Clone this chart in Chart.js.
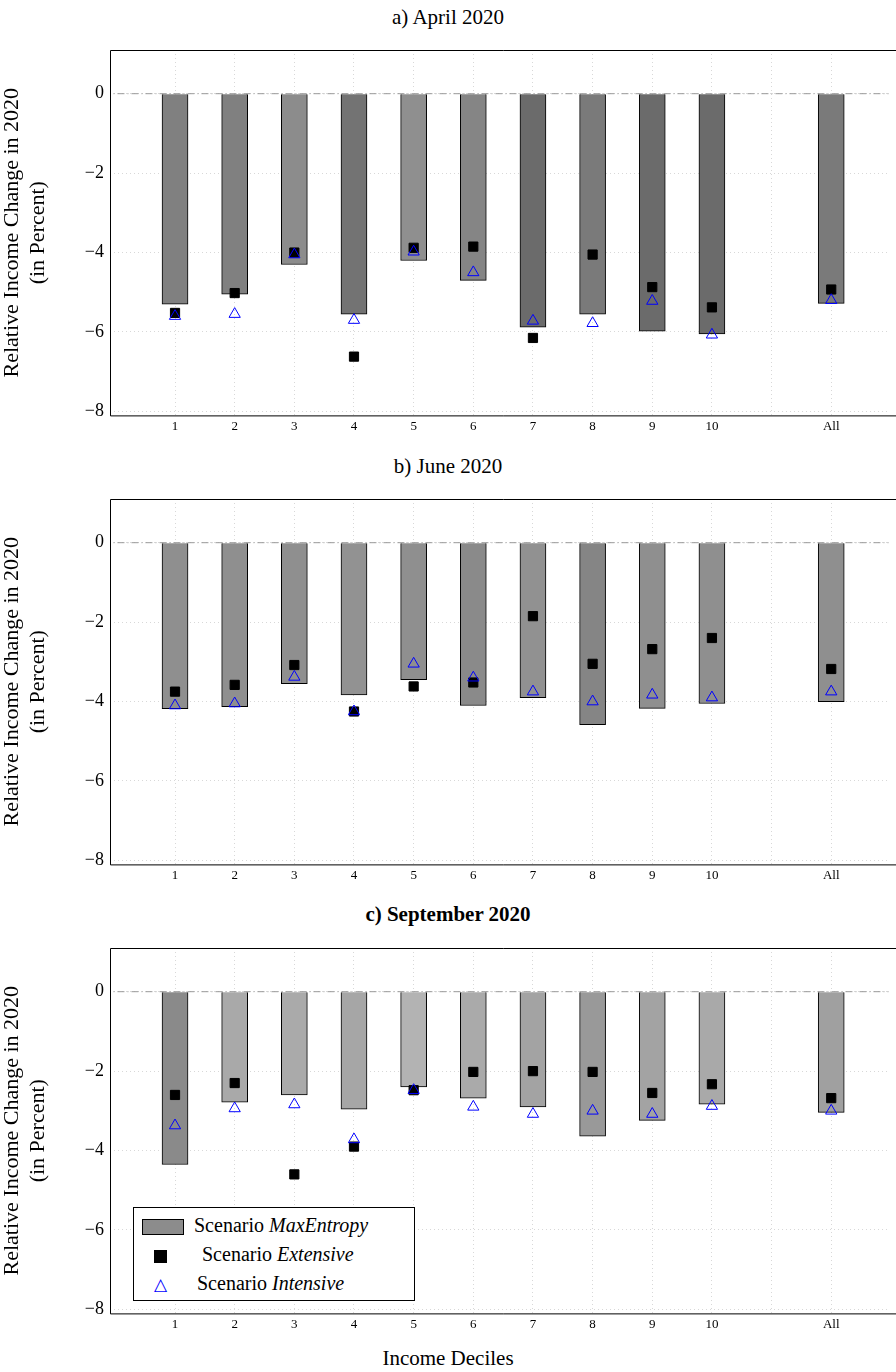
<!DOCTYPE html>
<html><head><meta charset="utf-8">
<script src="https://cdn.jsdelivr.net/npm/chart.js@4"></script>
<style>
body{margin:0;background:#fff;font-family:"Liberation Serif",serif;}
.wrap{position:absolute;left:0;width:896px;}
.t{position:absolute;left:0;width:896px;text-align:center;font-size:21px;color:#000;}
#legend{position:absolute;left:133px;top:1207px;width:280px;height:92px;border:1px solid #000;background:#fff;font-size:20px;}
#legend div{position:absolute;left:0;height:30px;line-height:30px;}
</style></head><body>
<div class="t" style="top:5px">a) April 2020</div>
<div class="t" style="top:454px">b) June 2020</div>
<div class="t" style="top:902px;font-weight:bold">c) September 2020</div>
<div class="t" style="top:1346px">Income Deciles</div>
<div class="wrap" style="top:0;height:449px"><canvas id="c0"></canvas></div>
<div class="wrap" style="top:449px;height:449px"><canvas id="c1"></canvas></div>
<div class="wrap" style="top:898px;height:449px"><canvas id="c2"></canvas></div>
<div id="legend">
 <div style="top:2px;left:8px"><span style="display:inline-block;width:40px;height:14px;background:#8c8c8c;border:1px solid #000;vertical-align:middle"></span>&nbsp; Scenario <i>MaxEntropy</i></div>
 <div style="top:31px;left:20px"><span style="display:inline-block;width:13px;height:13px;background:#000;vertical-align:middle"></span>&nbsp;&nbsp;&nbsp;&nbsp;&nbsp;&nbsp; Scenario <i>Extensive</i></div>
 <div style="top:60px;left:20px"><span style="color:#00f;font-size:17px">△</span>&nbsp;&nbsp;&nbsp;&nbsp;&nbsp; Scenario <i>Intensive</i></div>
</div>
<script>
const positions=[1,2,3,4,5,6,7,8,9,10,12];
const categories=['1','2','3','4','5','6','7','8','9','10','All'];
const aprilBars=[-5.3,-5.05,-4.3,-5.55,-4.2,-4.7,-5.88,-5.55,-5.98,-6.05,-5.28];
const aprilExt=[-5.52,-5.02,-4.0,-6.62,-3.88,-3.85,-6.15,-4.05,-4.87,-5.38,-4.93];
const aprilInt=[-5.6,-5.55,-4.05,-5.7,-3.98,-4.5,-5.72,-5.78,-5.22,-6.07,-5.2];
const juneBars=[-4.18,-4.13,-3.55,-3.83,-3.45,-4.1,-3.9,-4.58,-4.17,-4.05,-4.0];
const juneExt=[-3.75,-3.58,-3.08,-4.25,-3.62,-3.52,-1.85,-3.05,-2.68,-2.4,-3.18];
const juneInt=[-4.1,-4.05,-3.38,-4.25,-3.05,-3.4,-3.75,-4.0,-3.83,-3.9,-3.75];
const sepBars=[-4.35,-2.78,-2.6,-2.96,-2.4,-2.68,-2.9,-3.64,-3.24,-2.83,-3.04];
const sepExt=[-2.6,-2.3,-4.6,-3.9,-2.48,-2.02,-2.0,-2.02,-2.55,-2.33,-2.68];
const sepInt=[-3.37,-2.94,-2.84,-3.72,-2.48,-2.9,-3.08,-3.0,-3.08,-2.88,-3.0];
const colsA=['#808080','#808080','#8c8c8c','#737373','#8f8f8f','#858585','#6b6b6b','#7a7a7a','#6b6b6b','#6b6b6b','#7a7a7a'];
const colsB=['#8f8f8f','#8f8f8f','#8f8f8f','#929292','#8f8f8f','#8a8a8a','#919191','#858585','#8f8f8f','#8f8f8f','#8f8f8f'];
const colsC=['#8a8a8a','#a9a9a9','#aaaaaa','#a6a6a6','#b3b3b3','#aaaaaa','#a3a3a3','#999999','#a3a3a3','#a9a9a9','#a0a0a0'];
const F='"Liberation Serif", serif';
const frame={id:'frame',afterDraw(c){const a=c.chartArea,x=c.ctx;x.save();x.strokeStyle='#000';x.lineWidth=1;x.beginPath();
 x.moveTo(896,a.top+0.5);x.lineTo(a.left+0.5,a.top+0.5);x.lineTo(a.left+0.5,a.bottom+0.5);x.lineTo(896,a.bottom+0.5);x.stroke();x.restore();}};
function make(id,bars,ext,int,cols){
 const pts=v=>v.map((y,i)=>({x:positions[i],y}));
 new Chart(document.getElementById(id),{
  data:{datasets:[
   {type:'line',data:[{x:-0.2,y:0},{x:14,y:0}],borderColor:'#999',borderWidth:1,borderDash:[7,3,1,3],pointRadius:0,order:4},
   {type:'bar',data:pts(bars),backgroundColor:cols,borderColor:'#000',borderWidth:1,barThickness:26,order:3},
   {type:'scatter',data:pts(ext),pointStyle:'rect',pointRadius:6.5,backgroundColor:'#000',borderColor:'#000',order:2},
   {type:'scatter',data:pts(int),pointStyle:'triangle',pointRadius:6.5,backgroundColor:'rgba(0,0,0,0)',borderColor:'#0000ff',borderWidth:1,order:1}
  ]},
  options:{responsive:true,maintainAspectRatio:false,animation:false,
   layout:{padding:{top:50,right:0,bottom:12,left:0}},
   plugins:{legend:{display:false},tooltip:{enabled:false}},
   scales:{
    x:{type:'linear',offset:false,min:-0.09,max:12.96,afterBuildTicks(s){s.ticks=[0,1,2,3,4,5,6,7,8,9,10,11,12].map(v=>({value:v}));},
     ticks:{autoSkip:false,maxRotation:0,color:'#000',font:{family:F,size:13},callback:v=>{const i=positions.indexOf(v);return i<0?'':categories[i];}},
     grid:{offset:false,color:c=>(c.tick&&c.tick.value===0)?'rgba(0,0,0,0)':'#d8d8d8',drawTicks:false},border:{display:false,dash:[1,3]}},
    y:{min:-8.1,max:1.1,afterBuildTicks(s){s.ticks=[-8,-6,-4,-2,0].map(v=>({value:v}));},afterFit(s){s.width=110;},
     ticks:{color:'#000',font:{family:F,size:18},callback:v=>v<0?'\u2212'+Math.abs(v):String(v),padding:6},
     grid:{color:'#d8d8d8',drawTicks:false},border:{display:false,dash:[1,3]},
     title:{display:true,text:['Relative Income Change in 2020','(in Percent)'],color:'#000',font:{family:F,size:22,lineHeight:1.15},padding:{top:0,bottom:4}}}
   }},
  plugins:[frame]});
}
make('c0',aprilBars,aprilExt,aprilInt,colsA);
make('c1',juneBars,juneExt,juneInt,colsB);
make('c2',sepBars,sepExt,sepInt,colsC);
</script></body></html>
